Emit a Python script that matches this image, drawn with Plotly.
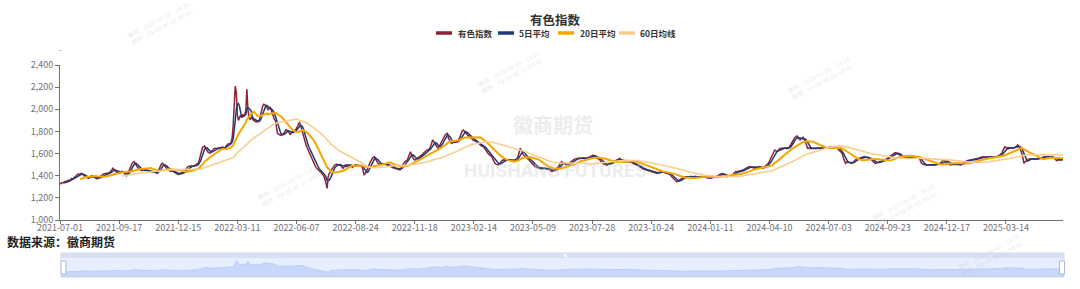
import plotly.graph_objects as go
import pandas as pd

# ---------------- data ----------------
title_text = "有色指数"
series_names = ["有色指数", "5日平均", "20日平均", "60日均线"]
ma_windows = [5, 20, 60]
tick_labels = ["2021-07-01", "2021-09-17", "2021-12-15", "2022-03-11", "2022-06-07",
               "2022-08-24", "2022-11-18", "2023-02-14", "2023-05-09", "2023-07-28",
               "2023-10-24", "2024-01-11", "2024-04-10", "2024-07-03", "2024-09-23",
               "2024-12-17", "2025-03-14"]
label_step = 56  # trading days between shown labels
y_ticks = [1000, 1200, 1400, 1600, 1800, 2000, 2200, 2400]

index_values = [
    1325, 1330, 1338, 1335, 1342, 1350, 1346, 1355, 1360, 1352,
    1365, 1376, 1370, 1380, 1392, 1400, 1408, 1415, 1412, 1418,
    1422, 1415, 1405, 1398, 1390, 1385, 1380, 1376, 1385, 1394,
    1400, 1395, 1388, 1382, 1378, 1372, 1376, 1385, 1395, 1402,
    1410, 1415, 1418, 1420, 1416, 1422, 1425, 1430, 1438, 1450,
    1467, 1455, 1442, 1435, 1428, 1432, 1430, 1425, 1436, 1440,
    1432, 1420, 1412, 1400, 1415, 1440, 1462, 1485, 1505, 1520,
    1527, 1515, 1498, 1480, 1468, 1460, 1452, 1448, 1450, 1455,
    1448, 1452, 1446, 1450, 1442, 1438, 1440, 1436, 1432, 1438,
    1434, 1426, 1420, 1440, 1468, 1490, 1505, 1512, 1500, 1488,
    1475, 1467, 1458, 1450, 1442, 1440, 1445, 1438, 1430, 1425,
    1418, 1414, 1410, 1416, 1422, 1428, 1425, 1430, 1440, 1455,
    1470, 1480, 1485, 1482, 1490, 1486, 1484, 1488, 1492, 1500,
    1508, 1512, 1545, 1590, 1630, 1655, 1662, 1668, 1650, 1628,
    1615, 1608, 1602, 1615, 1628, 1640, 1645, 1648, 1642, 1650,
    1646, 1652, 1648, 1655, 1660, 1652, 1648, 1665, 1680, 1685,
    1688, 1690, 1700, 1740, 1850, 2050, 2210, 2150, 1950, 1900,
    1925, 1945, 1930, 1950, 1940, 1955, 1990, 2180, 2000, 1920,
    1910, 1925, 1915, 1903, 1895, 1890, 1885, 1892, 1890, 1910,
    1955, 2010, 2030, 2045, 2040, 2035, 2020, 1993, 2005, 2020,
    1995, 1964, 1930, 1910, 1900, 1840, 1783, 1775, 1770, 1765,
    1772, 1770, 1785, 1800, 1813, 1810, 1805, 1790, 1770, 1785,
    1800, 1805, 1810, 1808, 1830, 1843, 1870, 1880, 1850, 1813,
    1770, 1730, 1696, 1680, 1655, 1632, 1610, 1590, 1565, 1542,
    1520, 1500, 1482, 1470, 1455, 1450, 1440, 1432, 1420, 1410,
    1395, 1370, 1330, 1286, 1391, 1420, 1437, 1450, 1468, 1482,
    1495, 1500, 1505, 1498, 1502, 1500, 1490, 1478, 1467, 1480,
    1497, 1495, 1500, 1492, 1498, 1495, 1485, 1475, 1485, 1497,
    1500, 1495, 1497, 1492, 1488, 1490, 1488, 1430, 1410, 1418,
    1435, 1452, 1475, 1505, 1527, 1545, 1560, 1568, 1572, 1550,
    1527, 1515, 1508, 1505, 1510, 1502, 1506, 1500, 1508, 1504,
    1505, 1495, 1488, 1482, 1478, 1472, 1470, 1468, 1465, 1467,
    1460, 1455, 1452, 1470, 1492, 1512, 1520, 1528, 1535, 1542,
    1570, 1600, 1617, 1590, 1565, 1550, 1542, 1548, 1555, 1562,
    1568, 1572, 1580, 1590, 1600, 1612, 1620, 1628, 1635, 1640,
    1640, 1665, 1690, 1723, 1710, 1690, 1672, 1660, 1648, 1660,
    1678, 1700, 1720, 1740, 1755, 1770, 1778, 1783, 1738, 1715,
    1700, 1693, 1700, 1705, 1708, 1712, 1706, 1708, 1730, 1760,
    1790, 1805, 1813, 1800, 1783, 1775, 1768, 1760, 1753, 1745,
    1735, 1723, 1718, 1712, 1710, 1708, 1700, 1690, 1678, 1670,
    1665, 1663, 1650, 1635, 1617, 1605, 1595, 1588, 1580, 1572,
    1550, 1525, 1512, 1505, 1500, 1497, 1505, 1520, 1535, 1542,
    1540, 1545, 1542, 1538, 1544, 1540, 1546, 1542, 1538, 1527,
    1532, 1540, 1550, 1557, 1580, 1615, 1648, 1630, 1605, 1587,
    1580, 1572, 1565, 1557, 1545, 1532, 1520, 1512, 1500, 1490,
    1482, 1478, 1472, 1470, 1468, 1467, 1462, 1468, 1465, 1470,
    1466, 1462, 1467, 1458, 1448, 1442, 1437, 1445, 1452, 1460,
    1465, 1467, 1480, 1495, 1510, 1527, 1520, 1512, 1505, 1500,
    1497, 1505, 1515, 1522, 1530, 1536, 1542, 1548, 1552, 1555,
    1558, 1557, 1560, 1555, 1558, 1562, 1556, 1559, 1555, 1557,
    1562, 1568, 1572, 1578, 1582, 1587, 1580, 1572, 1565, 1560,
    1557, 1545, 1532, 1520, 1512, 1505, 1500, 1498, 1497, 1502,
    1508, 1512, 1518, 1524, 1530, 1535, 1538, 1540, 1542, 1550,
    1557, 1548, 1535, 1527, 1530, 1525, 1528, 1526, 1530, 1527,
    1527, 1520, 1515, 1510, 1506, 1502, 1500, 1497, 1490, 1482,
    1475, 1467, 1462, 1458, 1455, 1452, 1452, 1448, 1445, 1440,
    1436, 1432, 1430, 1426, 1424, 1422, 1425, 1430, 1434, 1436,
    1437, 1432, 1428, 1425, 1423, 1420, 1422, 1415, 1405, 1395,
    1385, 1376, 1362, 1350, 1346, 1350, 1355, 1361, 1368, 1375,
    1382, 1388, 1391, 1394, 1390, 1388, 1392, 1391, 1394, 1390,
    1388, 1392, 1395, 1390, 1386, 1391, 1393, 1389, 1392, 1391,
    1388, 1384, 1380, 1378, 1376, 1378, 1382, 1386, 1390, 1391,
    1393, 1390, 1391, 1398, 1405, 1412, 1418, 1422, 1415, 1405,
    1398, 1393, 1391, 1395, 1398, 1402, 1404, 1406, 1420, 1432,
    1437, 1435, 1438, 1436, 1437, 1442, 1447, 1452, 1458, 1465,
    1470, 1474, 1478, 1480, 1482, 1476, 1472, 1468, 1467, 1472,
    1476, 1480, 1483, 1482, 1475, 1470, 1467, 1475, 1488, 1498,
    1505, 1512, 1530, 1552, 1572, 1595, 1615, 1632, 1625, 1617,
    1625, 1640, 1648, 1645, 1650, 1646, 1648, 1652, 1645, 1650,
    1648, 1663, 1680, 1700, 1723, 1735, 1745, 1752, 1759, 1740,
    1730, 1723, 1735, 1742, 1747, 1725, 1708, 1680, 1648, 1652,
    1645, 1650, 1648, 1646, 1650, 1648, 1644, 1648, 1652, 1648,
    1645, 1650, 1648, 1652, 1655, 1650, 1648, 1652, 1656, 1660,
    1662, 1663, 1660, 1655, 1652, 1650, 1648, 1640, 1630, 1620,
    1610, 1602, 1560, 1530, 1512, 1518, 1527, 1522, 1518, 1515,
    1512, 1520, 1530, 1542, 1548, 1552, 1555, 1556, 1557, 1562,
    1566, 1570, 1572, 1568, 1565, 1560, 1558, 1557, 1550, 1540,
    1528, 1518, 1512, 1515, 1520, 1525, 1527, 1527, 1530, 1535,
    1540, 1542, 1548, 1552, 1558, 1565, 1572, 1580, 1588, 1595,
    1602, 1608, 1605, 1600, 1596, 1590, 1585, 1578, 1572, 1566,
    1560, 1557, 1557, 1560, 1562, 1566, 1570, 1572, 1570, 1574,
    1572, 1570, 1573, 1572, 1555, 1530, 1512, 1505, 1500, 1498,
    1496, 1498, 1497, 1495, 1498, 1496, 1499, 1497, 1495, 1497,
    1500, 1503, 1506, 1510, 1512, 1525, 1542, 1538, 1532, 1530,
    1527, 1518, 1508, 1497, 1500, 1502, 1505, 1503, 1506, 1508,
    1506, 1502, 1498, 1497, 1502, 1510, 1518, 1527, 1532, 1536,
    1538, 1540, 1542, 1544, 1540, 1542, 1546, 1550, 1552, 1555,
    1557, 1562, 1566, 1570, 1572, 1570, 1568, 1566, 1564, 1568,
    1566, 1566, 1568, 1570, 1572, 1570, 1574, 1572, 1572, 1578,
    1585, 1595, 1602, 1625, 1650, 1663, 1655, 1650, 1645, 1648,
    1648, 1652, 1655, 1650, 1654, 1657, 1665, 1678, 1670, 1650,
    1630, 1602, 1560, 1512, 1525, 1535, 1542, 1548, 1550, 1552,
    1555, 1557, 1554, 1550, 1546, 1548, 1552, 1556, 1560, 1563,
    1566, 1568, 1570, 1572, 1570, 1572, 1572, 1570, 1568, 1566,
    1568, 1566, 1555, 1545, 1536, 1540, 1545, 1548, 1546, 1548,
    1545,
]

# ---------------- derived ----------------
x_idx = list(range(len(index_values)))
s = pd.Series(index_values, dtype=float)
ma_series = [s.rolling(w).mean().tolist() for w in ma_windows]
tick_positions = [i * label_step for i in range(len(tick_labels))]

W, H = 1080, 289
def px(x): return x / W
def py(y): return 1 - y / H

colors = ["#8B2335", "#1F3A72", "#F5A700", "#F9CD8E"]
widths = [1.5, 1.5, 2.0, 1.6]
FONT = "Noto Sans CJK SC"
AXIS_GRAY = "#6E7079"

fig = go.Figure()
all_series = [index_values] + ma_series
for name, ys, c, w in zip(series_names, all_series, colors, widths):
    fig.add_trace(go.Scatter(x=x_idx, y=ys, mode="lines", name=name,
                             line=dict(color=c, width=w), showlegend=False,
                             xaxis="x", yaxis="y"))

# slider preview (data shadow)
fig.add_trace(go.Scatter(x=x_idx, y=index_values, mode="lines", fill="tozeroy",
                         line=dict(color="#A9C0F2", width=0.6),
                         fillcolor="rgba(143,176,247,0.35)", showlegend=False,
                         xaxis="x2", yaxis="y2", hoverinfo="skip"))

n_last = len(index_values) - 1
x_dom = [px(60), px(1063)]

shapes = []
annotations = []

# title
annotations.append(dict(text="<b>" + title_text + "</b>", x=px(555), y=py(19),
                        xref="paper", yref="paper", showarrow=False,
                        font=dict(family=FONT, size=12.5, color="#333333"),
                        xanchor="center", yanchor="middle"))
# legend (manual)
leg_items = [(436, 452, 456), (498, 514, 517), (558, 574, 578), (619, 635, 638)]
for (x0, x1, tx), name, c in zip(leg_items, series_names, colors):
    shapes.append(dict(type="line", xref="paper", yref="paper",
                       x0=px(x0), x1=px(x1), y0=py(33), y1=py(33),
                       line=dict(color=c, width=3.5)))
    annotations.append(dict(text="<b>" + name + "</b>", x=px(tx), y=py(33),
                            xref="paper", yref="paper", showarrow=False,
                            font=dict(family=FONT, size=8.5, color="#333333"),
                            xanchor="left", yanchor="middle"))

# small dash above the y axis
annotations.append(dict(text="-", x=px(60), y=py(50), xref="paper", yref="paper",
                        showarrow=False, font=dict(family=FONT, size=8, color=AXIS_GRAY),
                        xanchor="center", yanchor="middle"))

# watermarks
annotations.append(dict(text="<b>徽商期货</b>", x=px(553), y=py(125), xref="paper", yref="paper",
                        showarrow=False, font=dict(family=FONT, size=20, color="rgba(200,200,200,0.35)"),
                        xanchor="center", yanchor="middle"))
annotations.append(dict(text="<b>HUISHANG FUTURES</b>", x=px(555), y=py(170), xref="paper", yref="paper",
                        showarrow=False, font=dict(family="Liberation Sans Narrow, Roboto", size=19,
                                                   color="rgba(200,200,200,0.35)"),
                        xanchor="center", yanchor="middle"))
for wx, wy in [(160, 24), (510, 72), (820, 78), (290, 185), (905, 205), (990, 255)]:
    annotations.append(dict(text="徽商    2025-06-09    14:26<br>期货    F4-68-9C-62-89-41",
                            x=px(wx), y=py(wy), xref="paper", yref="paper", showarrow=False,
                            textangle=-28, font=dict(family=FONT, size=6, color="rgba(190,190,190,0.35)"),
                            xanchor="center", yanchor="middle"))

# source note
annotations.append(dict(text="<b>数据来源：徽商期货</b>", x=px(5), y=py(241), xref="paper", yref="paper",
                        showarrow=False, font=dict(family=FONT, size=12, color="#222222"),
                        xanchor="left", yanchor="middle"))

# slider frame
shapes.append(dict(type="rect", xref="paper", yref="paper", layer="below",
                   x0=px(61), x1=px(1064), y0=py(277), y1=py(253),
                   fillcolor="rgba(135,175,255,0.2)",
                   line=dict(color="#D2DBEE", width=1)))
shapes.append(dict(type="rect", xref="paper", yref="paper", layer="below",
                   x0=px(61), x1=px(1064), y0=py(258), y1=py(253),
                   fillcolor="rgba(210,219,238,0.7)", line=dict(width=0)))
for hx in (63.5, 1062):
    shapes.append(dict(type="rect", xref="paper", yref="paper", layer="above",
                       x0=px(hx - 2.5), x1=px(hx + 2.5), y0=py(274), y1=py(261),
                       fillcolor="#FFFFFF", line=dict(color="#ACB8D1", width=1)))
shapes.append(dict(type="circle", xref="paper", yref="paper", layer="above",
                   x0=px(564), x1=px(567), y0=py(257), y1=py(254),
                   fillcolor="#FFFFFF", line=dict(width=0)))

fig.update_layout(
    width=W, height=H,
    margin=dict(l=0, r=0, t=0, b=0),
    paper_bgcolor="white", plot_bgcolor="white",
    font=dict(family=FONT, color=AXIS_GRAY),
    showlegend=False,
    xaxis=dict(domain=x_dom, range=[0, n_last], tickmode="array",
               tickvals=tick_positions, ticktext=tick_labels,
               showgrid=False, zeroline=False, showline=True, linecolor=AXIS_GRAY, linewidth=1,
               ticks="outside", ticklen=3, tickcolor=AXIS_GRAY, tickwidth=1,
               ticklabelstandoff=-4,
               tickfont=dict(family=FONT, size=9, color=AXIS_GRAY), automargin=False,
               anchor="y"),
    yaxis=dict(domain=[py(220), py(65)], range=[1000, 2400], tickmode="array",
               tickvals=y_ticks, tickformat=",", showgrid=False, zeroline=False,
               showline=True, linecolor=AXIS_GRAY, linewidth=1,
               ticks="outside", ticklen=4, tickcolor=AXIS_GRAY,
               tickfont=dict(family=FONT, size=9, color=AXIS_GRAY), automargin=False,
               anchor="x"),
    xaxis2=dict(domain=[px(61), px(1064)], range=[0, n_last], visible=False, anchor="y2"),
    yaxis2=dict(domain=[py(277), py(258)], range=[920, 2430], visible=False, anchor="x2"),
    shapes=shapes,
    annotations=annotations,
)

fig.write_html("out.html")
